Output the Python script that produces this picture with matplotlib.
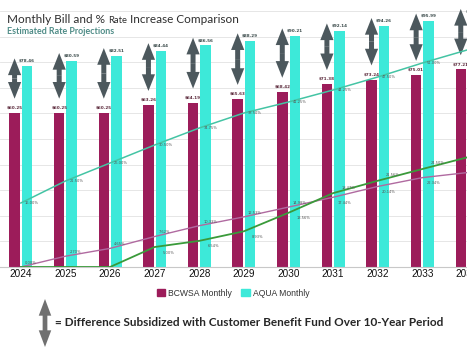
import matplotlib
matplotlib.use('Agg')
import matplotlib.pyplot as plt
import numpy as np
from matplotlib.patches import Patch

# ---------------- data ----------------
years = ['2024', '2025', '2026', '2027', '2028', '2029', '2030', '2031', '2032', '2033', '2034']
bcwsa_monthly = [60.25, 60.25, 60.25, 63.26, 64.19, 65.63, 68.42, 71.38, 73.24, 75.01, 77.21]
aqua_monthly = [78.46, 80.59, 82.51, 84.44, 86.56, 88.29, 90.21, 92.14, 94.26, 95.99, 97.80]
teal_pct = [16.00, 21.50, 26.00, 30.50, 34.75, 38.50, 41.25, 44.25, 47.50, 51.00, 54.25]
pink_pct = [0.00, 2.70, 4.65, 7.62, 10.33, 12.53, 14.98, 17.44, 20.14, 22.34, 23.60]
green_pct = [0.00, 0.00, 0.00, 5.00, 6.54, 8.93, 13.56, 18.47, 21.56, 24.50, 27.40]

# ---------------- style ----------------
W, H = 467, 350
C_BCWSA = '#9c1c5a'
C_AQUA = '#3de9d9'
C_ARROW = '#4c585d'
C_TEAL = '#44c4a4'
C_PINK = '#b06aa0'
C_GREEN = '#3a9a3a'

fig = plt.figure(figsize=(W / 100, H / 100), dpi=100, facecolor='white')
base_px = 267
ax = fig.add_axes([0, 1 - base_px / H, 1, base_px / H])
ax.set_facecolor('white')
x = np.arange(len(years))
px_per_cat = 45.0
x0_px = 21.0
ax.set_xlim(-x0_px / px_per_cat, (W - x0_px) / px_per_cat)
ax.set_ylim(0, base_px / 2.56)

bw = 0.235
off = 0.14
ax.bar(x - off, bcwsa_monthly, bw, color=C_BCWSA, zorder=2)
ax.bar(x + off, aqua_monthly, bw, color=C_AQUA, zorder=2)

for yv in range(10, 101, 10):
    ax.axhline(yv, color='#e2e2e2', lw=0.6, zorder=0)

for s in ['top', 'left', 'right']:
    ax.spines[s].set_visible(False)
ax.spines['bottom'].set_color('#c8c8c8')
ax.spines['bottom'].set_linewidth(0.8)
ax.set_yticks([])
ax.set_xticks(x)
ax.set_xticklabels(years, fontsize=7.2, family='Liberation Sans', color='#111111')
ax.tick_params(axis='x', length=0, pad=1.5)

# value labels
for i in range(len(years)):
    ax.text(x[i] - off, bcwsa_monthly[i] + 1.2, f"${bcwsa_monthly[i]:.2f}", ha='center', va='bottom',
            fontsize=3.0, fontweight='bold', color='#5c2a3c', family='DejaVu Sans', zorder=4)
    ax.text(x[i] + off, aqua_monthly[i] + 1.2, f"${aqua_monthly[i]:.2f}", ha='center', va='bottom',
            fontsize=3.0, fontweight='bold', color='#3a4a4a', family='DejaVu Sans', zorder=4)


def double_arrow(target, xx, ya, yb, color, hl, hw, tw, coords):
    mid = (ya + yb) / 2.0
    style = f"simple,head_length={hl},head_width={hw},tail_width={tw}"
    for yy in (ya, yb):
        target.annotate('', xy=(xx, yy), xytext=(xx, mid), xycoords=coords, textcoords=coords,
                        arrowprops=dict(arrowstyle=style, fc=color, ec='none', lw=0,
                                        shrinkA=0, shrinkB=0, mutation_scale=1),
                        annotation_clip=False, zorder=5)


for i in range(len(years)):
    double_arrow(ax, x[i] - off, aqua_monthly[i] + 3.0, bcwsa_monthly[i] + 5.5, C_ARROW,
                 12.0, 9.5, 3.6, 'data')

# percentage lines on a secondary axis
ax2 = ax.twinx()
ax2.set_ylim(0, base_px / 4.0)
ax2.set_yticks([])
for s in ax2.spines.values():
    s.set_visible(False)
ax2.plot(x, teal_pct, color=C_TEAL, lw=1.1, zorder=3)
ax2.plot(x, pink_pct, color=C_PINK, lw=1.0, zorder=3)
ax2.plot(x, green_pct, color=C_GREEN, lw=1.3, zorder=3)

for i in range(len(years)):
    ax2.annotate(f"{teal_pct[i]:.2f}%", (x[i], teal_pct[i]), xytext=(3, 0), textcoords='offset points',
                 fontsize=2.6, color='#555555', va='center', ha='left')
    green_up = green_pct[i] > pink_pct[i]
    ax2.annotate(f"{pink_pct[i]:.2f}%", (x[i], pink_pct[i]), xytext=(3, -4 if green_up else 3),
                 textcoords='offset points', fontsize=2.6, color='#555555', va='center', ha='left')
    if green_pct[i] > 0:
        ax2.annotate(f"{green_pct[i]:.2f}%", (x[i], green_pct[i]), xytext=(6, 4 if green_up else -4),
                     textcoords='offset points', fontsize=2.6, color='#555555', va='center', ha='left')

# ---------------- titles ----------------
fig.canvas.draw()
renderer = fig.canvas.get_renderer()


def fit(t, target_w):
    w = t.get_window_extent(renderer).width
    t.set_fontsize(t.get_fontsize() * target_w / w)


pieces = [("Monthly Bill and % ", 1.0), ("Rate", 0.8), (" Increase Comparison", 1.0)]
base_fs = 9.5
xpos = 7
texts = []
for s, scale in pieces:
    t = fig.text(xpos / W, 1 - 23 / H, s, fontsize=base_fs * scale, family='Lato', color='#2e2e2e',
                 va='baseline', ha='left')
    texts.append(t)
    xpos += t.get_window_extent(renderer).width
total = xpos - 7
k = 230 / total
xpos = 7
for (s, scale), t in zip(pieces, texts):
    t.set_fontsize(base_fs * scale * k)
    t.set_x(xpos / W)
    xpos += t.get_window_extent(renderer).width

sub = fig.text(7 / W, 1 - 34 / H, "Estimated Rate Projections", fontsize=6, family='Lato',
               fontweight='bold', color='#4f8c87', va='baseline', ha='left')
fit(sub, 107)

# legend
handles = [Patch(color=C_BCWSA), Patch(color=C_AQUA)]
fig.legend(handles, ['BCWSA Monthly', 'AQUA Monthly'], loc='center', bbox_to_anchor=(233 / W, 1 - 293 / H),
           ncol=2, frameon=False, prop={'family': 'Liberation Sans', 'size': 6.2},
           handlelength=1.0, handleheight=1.0, handletextpad=0.3, columnspacing=1.1, labelcolor='#333333')

# bottom note
double_arrow(ax, 45 / W, 1 - 299 / H, 1 - 347 / H, '#707070', 12.0, 9.0, 3.4, 'figure fraction')
note = fig.text(55 / W, 1 - 322 / H, "= Difference Subsidized with Customer Benefit Fund Over 10-Year Period",
                fontsize=9, family='Lato', fontweight='bold', color='#262626', va='center', ha='left')
fit(note, 387)

fig.savefig('out.png', dpi=100, facecolor='white')
